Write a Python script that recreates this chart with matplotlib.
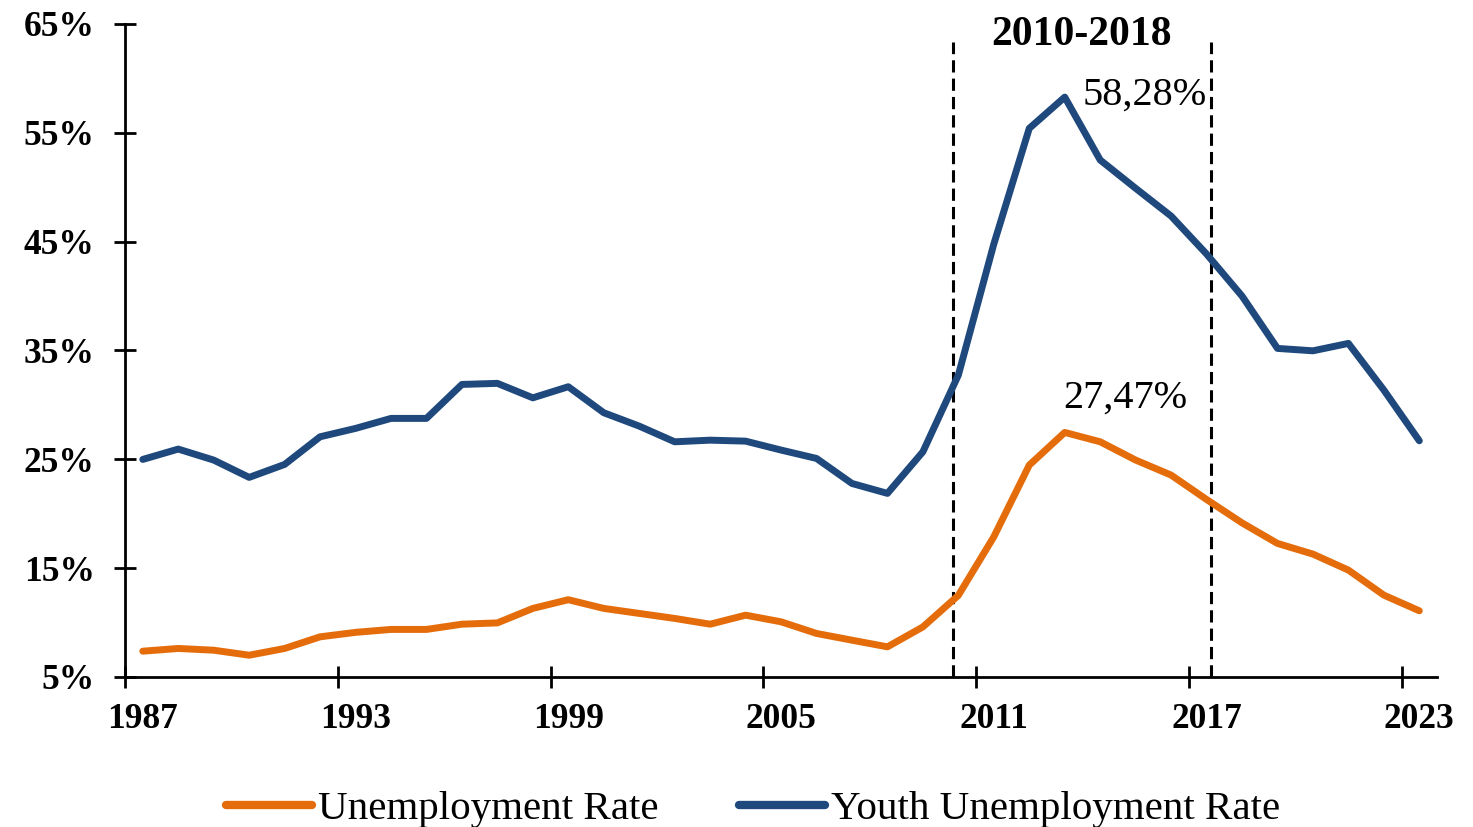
import numpy as np
import matplotlib
matplotlib.use("Agg")
import matplotlib.pyplot as plt
from matplotlib.ticker import FixedLocator, NullFormatter

# data (percent)
years = list(range(1987, 2024))
unemployment = [7.37, 7.62, 7.46, 7.00, 7.62, 8.69, 9.10, 9.37, 9.37, 9.85,
                9.97, 11.30, 12.10, 11.30, 10.84, 10.38, 9.85, 10.68, 10.07, 9.00,
                8.38, 7.77, 9.60, 12.50, 17.88, 24.47, 27.47, 26.61, 24.93, 23.55,
                21.31, 19.16, 17.27, 16.29, 14.82, 12.52, 11.08]
youth_unemployment = [24.99, 25.94, 24.93, 23.34, 24.53, 27.07, 27.84, 28.76, 28.76, 31.88,
                      31.98, 30.65, 31.67, 29.28, 28.05, 26.61, 26.76, 26.67, 25.85, 25.08,
                      22.78, 21.87, 25.69, 32.74, 44.78, 55.41, 58.28, 52.50, 49.90, 47.35,
                      43.86, 40.00, 35.19, 34.97, 35.65, 31.36, 26.70]
y_ticks = [5, 15, 25, 35, 45, 55, 65]
period_label = "2010-2018"
period_lines = [2009.84, 2017.13]

ORANGE = "#E46C0A"
BLUE = "#1F497D"

plt.rcParams["font.family"] = ["Liberation Serif", "DejaVu Serif"]

fig = plt.figure(figsize=(14.73, 8.27), dpi=100)
ax = fig.add_axes([0.0849, 0.1814, 0.8907, 0.7896])

l1, = ax.plot(years, unemployment, color=ORANGE, lw=5, solid_capstyle="round",
              solid_joinstyle="round", label="Unemployment Rate")
l2, = ax.plot(years, youth_unemployment, color=BLUE, lw=5, solid_capstyle="round",
              solid_joinstyle="round", label="Youth Unemployment Rate")

# period markers
for xv in period_lines:
    ax.axvline(xv, ymin=0, ymax=0.9725, color="black", lw=2.2,
               linestyle=(0, (4.0, 2.0)), zorder=1)
ax.text(np.mean(period_lines), 63.07, period_label, ha="center", va="baseline",
        fontsize=30, fontweight="bold")

# peak labels
i_u = int(np.argmax(unemployment))
i_y = int(np.argmax(youth_unemployment))
ax.annotate(f"{youth_unemployment[i_y]:.2f}%".replace(".", ","),
            (years[i_y], youth_unemployment[i_y]), xytext=(12.6, -5.3),
            textcoords="offset points", ha="left", va="baseline", fontsize=29)
ax.annotate(f"{unemployment[i_u]:.2f}%".replace(".", ","),
            (years[i_u], unemployment[i_u]), xytext=(-1.1, 17.6),
            textcoords="offset points", ha="left", va="baseline", fontsize=29)

# axes in the style of a category axis: ticks between years, labels on years
ax.set_xlim(1986.5, 2023.5)
ax.set_ylim(5, 65)
ax.xaxis.set_major_locator(FixedLocator(np.arange(1986.5, 2023, 6)))
ax.xaxis.set_major_formatter(NullFormatter())
ax.xaxis.set_minor_locator(FixedLocator(years[::6]))
ax.set_xticklabels([str(y) for y in years[::6]], minor=True)
ax.tick_params(axis="x", which="major", direction="inout", length=15.5, width=2)
ax.tick_params(axis="x", which="minor", length=0, pad=19, labelsize=25.5)

ax.set_yticks(y_ticks)
ax.set_yticklabels([f"{v}%" for v in y_ticks])
ax.tick_params(axis="y", direction="inout", length=15.5, width=2, pad=14, labelsize=25.5)

for lab in ax.get_xticklabels(minor=True) + ax.get_yticklabels():
    lab.set_fontweight("bold")

for side in ["top", "right"]:
    ax.spines[side].set_visible(False)
for side in ["left", "bottom"]:
    ax.spines[side].set_linewidth(2)

leg = fig.legend(handles=[l1, l2], loc="center", bbox_to_anchor=(753 / 1473, 0.021),
                 ncol=2, frameon=False, fontsize=29.5, handlelength=2.1,
                 handletextpad=0.15, columnspacing=1.95, borderpad=0)
for h in leg.get_lines():
    h.set_linewidth(6)

fig.savefig("out.png", dpi=100)
